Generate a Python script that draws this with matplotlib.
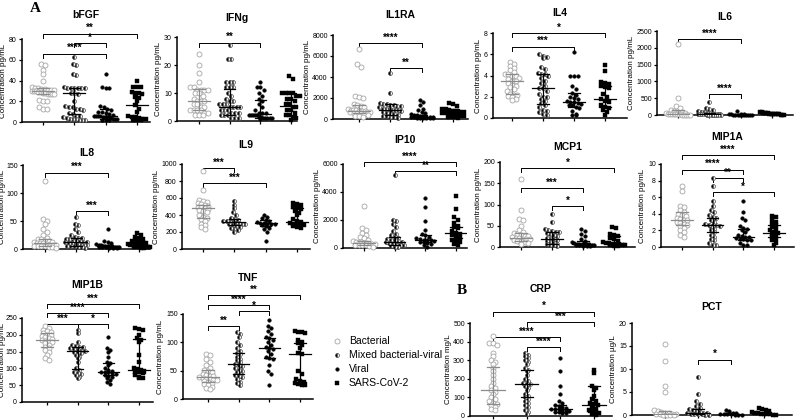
import numpy as np
import matplotlib.pyplot as plt

plt.rcParams['font.family'] = ['Liberation Sans', 'DejaVu Sans']

groups = ["Bacterial", "Mixed bacterial-viral", "Viral", "SARS-CoV-2"]

# ---- data (values per group: bacterial, mixed, viral, sars) ----
bfgf = [[56, 55, 50, 46, 40, 34, 33, 33, 32, 32, 31, 31, 31, 30, 30, 30, 29, 29, 28, 28, 27, 27, 27, 27, 21, 20, 20, 14, 13, 13],
        [63, 56, 55, 46, 45, 34, 33, 33, 33, 33, 33, 33, 28, 28, 27, 20, 15, 14, 14, 13, 13, 12, 9, 8, 6, 6, 5, 4, 3, 3, 3, 2, 2, 2],
        [46, 34, 33, 33, 15, 14, 13, 12, 10, 10, 9, 8, 7, 6, 6, 6, 6, 5, 5, 5, 4, 4, 3, 3, 3, 2, 2, 2],
        [40, 34, 34, 34, 29, 28, 28, 27, 24, 23, 20, 16, 13, 10, 6, 5, 5, 4, 3, 3, 2, 2, 2]]
bfgf_med = [30, 28, 6, 16]
bfgf_q1 = [27, 8, 3, 5]
bfgf_q3 = [33, 33, 13, 28]
bfgf_sig = [(1, 4, 85, "**"), (2, 3, 76, "*"), (1, 3, 66, "****")]

ifng = [[24, 20, 17, 14, 12, 12, 11, 11, 11, 11, 10, 10, 9, 8, 7, 7, 7, 6, 6, 5, 5, 4, 4, 4, 4, 3, 3, 2, 2, 2],
        [27, 22, 22, 14, 14, 14, 12, 12, 12, 10, 9, 8, 7, 7, 6, 6, 6, 5, 5, 5, 5, 4, 4, 4, 3, 3, 3, 2, 2, 2, 1, 1, 1],
        [14, 12, 12, 11, 10, 9, 8, 7, 6, 5, 4, 3, 3, 3, 2, 2, 2, 2, 2, 1.5, 1.5, 1, 1, 1, 1, 1, 0.8],
        [16, 15, 10, 10, 10, 10, 9, 9, 8, 8, 7, 6, 6, 5, 5, 4, 4, 3, 2, 2, 1, 1, 0.5]]
ifng_med = [7, 5, 2.5, 5.5]
ifng_q1 = [4, 2, 1, 2]
ifng_q3 = [11.5, 11.5, 7.5, 10]
ifng_sig = [(1, 3, 28, "**")]

il1ra = [[6700, 5200, 5000, 2200, 2100, 2000, 1400, 1300, 1200, 1100, 1000, 900, 900, 850, 800, 800, 750, 700, 700, 650, 600, 600, 550, 500, 400, 300, 250, 200],
         [4400, 2500, 1500, 1400, 1400, 1300, 1300, 1200, 1200, 1100, 1000, 1000, 950, 900, 900, 850, 800, 700, 600, 500, 450, 400, 300, 250, 200, 150, 100],
         [1800, 1600, 1300, 1000, 900, 700, 600, 500, 400, 350, 300, 250, 200, 200, 200, 150, 150, 100, 100, 100, 80, 50, 50],
         [1500, 1400, 1200, 1000, 1000, 900, 800, 800, 700, 700, 600, 600, 500, 400, 400, 300, 300, 200, 200, 150, 100]]
il1ra_med = [800, 900, 200, 600]
il1ra_q1 = [600, 400, 100, 300]
il1ra_q3 = [1300, 1400, 400, 1000]
il1ra_sig = [(1, 3, 7240, "****"), (2, 3, 4860, "**")]

il4 = [[5.3, 5.1, 4.9, 4.7, 4.5, 4.3, 4.1, 4.1, 4.0, 4.0, 3.8, 3.7, 3.5, 3.5, 3.3, 3.1, 3.0, 2.9, 2.7, 2.5, 2.3, 2.2, 2.2, 2.1, 2.0, 1.8, 1.7],
       [6.0, 5.8, 5.7, 5.6, 4.8, 4.6, 4.2, 4.1, 4.1, 4.0, 3.8, 3.5, 3.3, 3.0, 2.8, 2.8, 2.5, 2.3, 2.0, 2.0, 1.8, 1.6, 1.4, 1.2, 1.0, 0.8, 0.7, 0.6, 0.4, 0.3],
       [6.2, 4.0, 4.0, 4.0, 3.0, 2.7, 2.4, 2.2, 2.0, 1.9, 1.8, 1.6, 1.5, 1.5, 1.4, 1.3, 1.2, 1.2, 1.0, 0.9, 0.7, 0.4, 0.3, 0.3],
       [5.0, 4.4, 3.4, 3.3, 3.2, 3.0, 2.9, 2.8, 2.3, 2.0, 1.8, 1.6, 1.5, 1.2, 1.0, 0.9, 0.8, 0.6, 0.3]]
il4_med = [3.5, 2.8, 1.5, 1.8]
il4_q1 = [2.3, 1.3, 1.0, 1.0]
il4_q3 = [4.1, 4.1, 2.4, 3.0]
il4_sig = [(1, 4, 8.0, "*"), (1, 3, 6.7, "***")]

il6 = [[2100, 500, 280, 200, 150, 120, 100, 80, 60, 50, 40, 30, 30, 30, 25, 20, 20, 15, 10, 10, 10, 5, 5],
       [400, 220, 180, 150, 120, 100, 80, 60, 50, 40, 40, 30, 30, 20, 20, 20, 15, 10, 10, 8, 5, 5, 5, 3],
       [120, 40, 30, 20, 15, 10, 8, 5, 5, 5, 3, 3, 2, 2, 1],
       [100, 80, 70, 60, 50, 50, 40, 40, 30, 30, 25, 20, 20, 15, 10, 10, 5]]
il6_med = [30, 20, 5, 30]
il6_q1 = [10, 5, 2, 15]
il6_q3 = [150, 60, 15, 50]
il6_sig = [(1, 3, 2260, "****"), (2, 3, 625, "****")]

il8 = [[122, 53, 50, 45, 35, 30, 25, 20, 18, 17, 15, 14, 13, 12, 11, 10, 10, 9, 8, 8, 7, 6, 6, 5, 5, 4, 3, 2],
       [57, 45, 42, 35, 30, 25, 22, 20, 20, 18, 17, 15, 15, 14, 13, 13, 12, 11, 10, 10, 9, 8, 8, 7, 6, 5, 5, 4, 3, 2],
       [35, 15, 12, 10, 9, 8, 7, 6, 6, 5, 5, 5, 4, 4, 4, 3, 3, 3, 2, 2, 1],
       [28, 25, 22, 20, 18, 15, 14, 13, 12, 10, 9, 8, 7, 7, 6, 6, 5, 5, 4, 4, 3, 3, 2, 2]]
il8_med = [10, 13, 5, 7]
il8_q1 = [6, 6, 3, 4]
il8_q3 = [17, 20, 8, 13]
il8_sig = [(1, 3, 136, "***"), (2, 3, 68, "***")]

il9 = [[920, 690, 580, 560, 550, 540, 530, 520, 510, 500, 490, 480, 470, 460, 450, 430, 400, 380, 370, 350, 330, 300, 280, 260, 240],
       [570, 520, 480, 430, 400, 370, 350, 340, 330, 330, 320, 320, 310, 310, 300, 300, 290, 280, 270, 260, 250, 230, 220, 200],
       [400, 380, 360, 340, 330, 320, 310, 310, 300, 300, 290, 280, 270, 250, 230, 200, 90],
       [540, 530, 520, 500, 480, 470, 450, 420, 400, 350, 330, 320, 310, 300, 300, 290, 280, 270, 260, 250]]
il9_med = [480, 320, 310, 320]
il9_q1 = [370, 280, 270, 280]
il9_q3 = [520, 350, 340, 480]
il9_sig = [(1, 2, 950, "***"), (1, 3, 775, "***")]

ip10 = [[3000, 1400, 1300, 1100, 900, 800, 700, 600, 500, 450, 400, 400, 350, 350, 300, 300, 300, 250, 250, 200, 200, 150, 100],
        [5200, 2000, 1900, 1700, 1500, 1200, 1000, 900, 800, 700, 650, 600, 550, 500, 450, 400, 350, 300, 250, 200, 200, 150, 100, 50],
        [3600, 2900, 1900, 1300, 1000, 900, 800, 700, 650, 600, 600, 550, 500, 450, 400, 350, 300, 200, 100],
        [3700, 2800, 2200, 2000, 1800, 1600, 1500, 1400, 1200, 1100, 1000, 900, 800, 700, 600, 500, 400, 300, 200]]
ip10_med = [350, 450, 600, 1100]
ip10_q1 = [250, 200, 400, 700]
ip10_q3 = [500, 800, 900, 1500]
ip10_sig = [(1, 4, 6140, "****"), (2, 4, 5500, "**")]

mcp1 = [[160, 87, 65, 63, 50, 40, 35, 32, 30, 28, 26, 25, 24, 22, 22, 20, 19, 18, 16, 15, 14, 12, 10, 8],
        [77, 58, 42, 40, 38, 36, 35, 32, 30, 28, 25, 22, 20, 18, 16, 14, 12, 10, 8, 6, 5, 4, 3],
        [42, 38, 30, 25, 20, 15, 12, 10, 8, 8, 7, 7, 6, 6, 5, 5, 4, 4, 3, 3, 2],
        [46, 44, 30, 28, 25, 22, 20, 15, 12, 10, 9, 8, 7, 6, 5, 5, 4, 3, 2]]
mcp1_med = [22, 20, 7, 10]
mcp1_q1 = [14, 8, 4, 5]
mcp1_q3 = [32, 35, 15, 25]
mcp1_sig = [(1, 4, 186, "*"), (1, 3, 139, "***"), (2, 3, 96, "*")]

mip1a = [[7.4, 6.8, 5.0, 4.8, 4.5, 4.2, 4.0, 3.9, 3.7, 3.5, 3.4, 3.3, 3.2, 3.0, 2.9, 2.8, 2.7, 2.5, 2.3, 2.0, 1.8, 1.5, 1.2],
         [8.3, 7.4, 5.5, 5.0, 4.5, 4.2, 3.8, 3.6, 3.5, 3.3, 3.0, 2.8, 2.7, 2.7, 2.6, 2.5, 2.4, 2.2, 2.0, 1.8, 1.5, 1.2, 1.0, 0.8, 0.5, 0.3, 0.2],
         [5.5, 4.2, 3.5, 3.2, 2.5, 2.3, 2.2, 2.0, 1.8, 1.5, 1.3, 1.2, 1.2, 1.1, 1.0, 1.0, 0.9, 0.8, 0.5, 0.3, 0.2],
         [3.7, 3.6, 3.2, 3.0, 2.8, 2.6, 2.4, 2.2, 2.0, 1.8, 1.7, 1.6, 1.4, 1.2, 1.0, 0.8, 0.5, 0.2]]
mip1a_med = [3.3, 2.7, 1.2, 1.7]
mip1a_q1 = [2.6, 1.8, 0.9, 1.2]
mip1a_q3 = [4.2, 3.5, 2.2, 2.6]
mip1a_sig = [(1, 4, 11.1, "****"), (1, 3, 9.3, "****"), (2, 3, 8.3, "**"), (2, 4, 6.6, "*")]

mip1b = [[225, 220, 215, 210, 207, 205, 200, 198, 195, 192, 190, 188, 185, 183, 180, 178, 175, 170, 165, 160, 155, 150, 140, 130, 125],
         [215, 205, 180, 170, 168, 165, 163, 160, 158, 155, 153, 152, 150, 148, 145, 140, 135, 130, 120, 100, 95, 90, 85, 82, 80, 75, 70],
         [193, 160, 155, 150, 135, 120, 115, 110, 100, 95, 92, 90, 90, 88, 85, 82, 80, 78, 75, 70, 65, 60, 55],
         [220, 218, 215, 200, 190, 185, 180, 140, 120, 100, 97, 95, 93, 90, 88, 85, 80, 75, 72, 70]]
mip1b_med = [185, 152, 90, 95]
mip1b_q1 = [165, 98, 80, 85]
mip1b_q3 = [205, 165, 115, 188]
mip1b_sig = [(1, 4, 292, "***"), (1, 3, 265, "****"), (1, 2, 232, "***"), (2, 3, 232, "*")]

tnf = [[80, 78, 70, 65, 60, 55, 52, 50, 48, 45, 42, 40, 40, 38, 37, 36, 35, 34, 33, 32, 30, 28, 26, 24, 22, 20, 18],
       [118, 115, 110, 100, 95, 90, 85, 82, 80, 75, 70, 68, 65, 62, 60, 58, 55, 52, 50, 48, 45, 42, 40, 38, 35, 30, 28, 25],
       [140, 128, 125, 120, 115, 110, 107, 105, 100, 95, 92, 90, 88, 85, 80, 75, 72, 70, 60, 50, 45, 25],
       [120, 118, 118, 117, 105, 100, 98, 95, 90, 82, 80, 50, 45, 35, 32, 30, 28, 27, 25, 25]]
tnf_med = [38, 62, 90, 80]
tnf_q1 = [30, 45, 72, 30]
tnf_q3 = [52, 82, 107, 98]
tnf_sig = [(1, 4, 183, "**"), (1, 3, 166, "****"), (2, 3, 155, "*"), (1, 2, 129, "**")]

crp = [[430, 390, 390, 380, 340, 320, 300, 290, 280, 260, 240, 220, 200, 180, 160, 150, 140, 130, 120, 100, 90, 80, 70, 65, 60, 50, 40, 30],
       [340, 330, 320, 310, 300, 290, 280, 260, 250, 240, 220, 200, 190, 180, 170, 170, 160, 150, 140, 120, 110, 100, 90, 80, 70, 60, 50, 30, 20, 10],
       [310, 240, 160, 120, 80, 70, 60, 55, 50, 45, 40, 40, 35, 30, 28, 25, 22, 20, 18, 15],
       [250, 230, 160, 150, 140, 110, 90, 80, 70, 65, 60, 50, 40, 30, 25, 20, 15, 10, 8]]
crp_med = [140, 170, 40, 60]
crp_q1 = [65, 100, 20, 20]
crp_q3 = [265, 250, 60, 160]
crp_sig = [(1, 4, 560, "*"), (2, 4, 505, "***"), (1, 3, 425, "****"), (2, 3, 371, "****")]

pct = [[15.5, 11.8, 6.2, 5.0, 1.0, 0.8, 0.6, 0.5, 0.4, 0.3, 0.3, 0.2, 0.2, 0.1, 0.1, 0.1, 0.05],
       [8.2, 4.5, 3.0, 2.5, 2.0, 1.5, 1.2, 1.0, 0.8, 0.6, 0.5, 0.5, 0.4, 0.3, 0.3, 0.2, 0.2, 0.1, 0.1],
       [1.1, 0.8, 0.5, 0.4, 0.3, 0.3, 0.2, 0.2, 0.1, 0.1, 0.05],
       [1.5, 1.2, 1.0, 0.8, 0.6, 0.5, 0.4, 0.3, 0.3, 0.2, 0.2, 0.1, 0.1]]
pct_med = [0.3, 0.4, 0.2, 0.3]
pct_q1 = [0.1, 0.2, 0.1, 0.2]
pct_q3 = [0.8, 1.2, 0.4, 0.6]
pct_sig = [(2, 3, 12.0, "*")]

W, H = 795, 420
fig = plt.figure(figsize=(W / 100, H / 100), dpi=100)

# marker styles per group
styles = [dict(marker="o", ms=3.6, mfc="white", mec="#a6a6a6", mew=0.6),
          dict(marker="o", ms=2.8, fillstyle="left", mfc="black", mfcalt="white", mec="#444444", mew=0.5),
          dict(marker="o", ms=2.6, mfc="black", mec="black", mew=0.3),
          dict(marker="s", ms=2.4, mfc="black", mec="black", mew=0.3)]
stat_colors = ["#8c8c8c", "black", "black", "black"]


def swarm(vals, ppu_y, ppu_x, size_px=3.6):
    # place points in horizontal rows so they don't overlap
    vals = sorted(vals, reverse=True)
    xs, ys = [], []
    row = []
    def flush(row):
        n = len(row)
        dx = size_px / ppu_x
        if n * dx > 0.8:
            dx = 0.8 / n
        for k, v in enumerate(row):
            xs.append((k - (n - 1) / 2) * dx)
            ys.append(v)
    for v in vals:
        if row and (row[0] - v) * ppu_y > size_px * 0.9:
            flush(row)
            row = []
        row.append(v)
    if row:
        flush(row)
    return np.array(xs), np.array(ys)


def panel(title, data, med, q1, q3, sig, x0, x1, t1, t4, y0, ytop, vmax, step, title_y, ylabel="Concentration pg/mL"):
    top_px = title_y + 7
    ax = fig.add_axes([x0 / W, 1 - y0 / H, (x1 - x0) / W, (y0 - top_px) / H])
    s = (t4 - t1) / 3
    ax.set_xlim(1 - (t1 - x0) / s, 4 + (x1 - t4) / s)
    ppu_y = (y0 - ytop) / vmax
    ytop_val = (y0 - top_px) / ppu_y
    ax.set_ylim(0, ytop_val)
    for i in range(4):
        xs, ys = swarm(data[i], ppu_y, s)
        ax.plot(xs + i + 1, ys, ls="none", clip_on=False, zorder=3, **styles[i])
        c = stat_colors[i]
        ax.plot([i + 0.65, i + 1.35], [med[i]] * 2, color=c, lw=0.9, zorder=4)
        ax.plot([i + 1, i + 1], [q1[i], q3[i]], color=c, lw=0.9, zorder=4)
        for q in (q1[i], q3[i]):
            ax.plot([i + 0.82, i + 1.18], [q, q], color=c, lw=0.9, zorder=4)
    tick_h = 4 / ppu_y
    for a, b, y, lab in sig:
        ax.plot([a, a, b, b], [y - tick_h, y, y, y - tick_h], color="black", lw=0.7, clip_on=False)
        ax.text((a + b) / 2, y + 0.5 / ppu_y, lab, ha="center", va="bottom", fontsize=7, fontweight="bold", clip_on=False)
    for sp in ("top", "right"):
        ax.spines[sp].set_visible(False)
    ax.spines["left"].set_bounds(0, vmax)
    ax.spines["left"].set_linewidth(1.1)
    ax.spines["bottom"].set_linewidth(1.1)
    ticks = np.arange(0, vmax + step / 2, step)
    ax.set_yticks(ticks)
    ax.set_yticklabels([f"{t:g}" for t in ticks])
    ax.set_xticks([1, 2, 3, 4])
    ax.set_xticklabels([])
    ax.tick_params(labelsize=5, length=2.5, width=0.9, pad=1.2)
    nch = len(f"{vmax:g}")
    off = min(8 + 3.5 * nch, x0 - 6)
    ax.set_ylabel(ylabel, fontsize=5.8)
    ax.yaxis.set_label_coords(-off / (x1 - x0), (vmax / 2) / ytop_val)
    fig.text((x0 + x1) / 2 / W, 1 - title_y / H, title, ha="center", va="center", fontsize=7.5, fontweight="bold")
    return ax


panel("bFGF", bfgf, bfgf_med, bfgf_q1, bfgf_q3, bfgf_sig, 22, 150, 43, 137, 122, 39, 80, 20, 15)
panel("IFNg", ifng, ifng_med, ifng_q1, ifng_q3, ifng_sig, 177, 297, 199, 291, 121, 37, 30, 10, 18)
panel("IL1RA", il1ra, il1ra_med, il1ra_q1, il1ra_q3, il1ra_sig, 333, 468, 359, 453, 119, 35, 8000, 2000, 15)
panel("IL4", il4, il4_med, il4_q1, il4_q3, il4_sig, 493, 627, 512, 605, 118, 33, 8, 2, 13)
panel("IL6", il6, il6_med, il6_q1, il6_q3, il6_sig, 657, 793, 678, 772, 115, 31, 2500, 500, 17)

panel("IL8", il8, il8_med, il8_q1, il8_q3, il8_sig, 23, 150, 45, 139, 249, 165, 150, 50, 153)
panel("IL9", il9, il9_med, il9_q1, il9_q3, il9_sig, 182, 310, 203, 297, 249, 164, 1000, 200, 145)
panel("IP10", ip10, ip10_med, ip10_q1, ip10_q3, ip10_sig, 343, 467, 364, 456, 248, 164, 6000, 2000, 140)
panel("MCP1", mcp1, mcp1_med, mcp1_q1, mcp1_q3, mcp1_sig, 500, 635, 521, 614, 247, 162, 200, 50, 147)
panel("MIP1A", mip1a, mip1a_med, mip1a_q1, mip1a_q3, mip1a_sig, 661, 794, 682, 774, 247, 164, 10, 2, 137)

panel("MIP1B", mip1b, mip1b_med, mip1b_q1, mip1b_q3, mip1b_sig, 22, 153, 47, 139, 402, 318, 250, 50, 285)
panel("TNF", tnf, tnf_med, tnf_q1, tnf_q3, tnf_sig, 183, 313, 208, 300, 399, 314, 150, 50, 278)
panel("CRP", crp, crp_med, crp_q1, crp_q3, crp_sig, 470, 612, 493, 594, 416, 323, 500, 100, 289, "Concentration mg/L")
panel("PCT", pct, pct_med, pct_q1, pct_q3, pct_sig, 632, 792, 665, 764, 415, 323, 20, 5, 307, "Concentration µg/L")

# panel letters
fig.text(35 / W, 1 - 8 / H, "A", fontsize=11, fontweight="bold", family="Liberation Serif", ha="center", va="center")
fig.text(462 / W, 1 - 290 / H, "B", fontsize=11, fontweight="bold", family="Liberation Serif", ha="center", va="center")

# legend
for k, g in enumerate(groups):
    yy = 1 - (341 + 14 * k) / H
    fig.lines.append(plt.Line2D([337 / W], [yy], transform=fig.transFigure, ls="none", **styles[k]))
    fig.text(349 / W, yy, g, fontsize=7.5, va="center", ha="left")

fig.savefig("out.png", dpi=100)
